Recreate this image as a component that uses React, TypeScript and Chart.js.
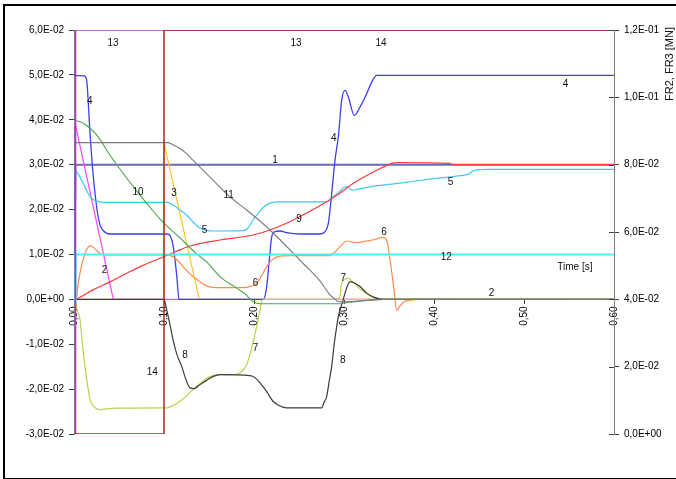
import React, { useEffect, useRef } from 'react';
import { Chart, registerables } from 'chart.js';

Chart.register(...registerables);

const W = 676;
const H = 479;
const FONT = "'Liberation Sans', Arial, sans-serif";

// Axis tick values
const timeTicks = [0, 0.1, 0.2, 0.3, 0.4, 0.5, 0.6];
const leftTicks = [-0.03, -0.02, -0.01, 0, 0.01, 0.02, 0.03, 0.04, 0.05, 0.06];
const rightTicks = [0, 0.02, 0.04, 0.06, 0.08, 0.1, 0.12];

// Series 1
const t1 = [0, 0.0017, 0.6];
const v1 = [0, 0.03, 0.03];
// Series 2
const t2 = [0, 0.0017, 0.0437, 0.6];
const v2 = [0.0399, 0.0388, 0, 0];
// Series 3
const t3 = [0, 0.1, 0.1, 0.1392, 0.6];
const v3 = [0, 0, 0.0348, 0, 0];
// Series 4
const t4 = [0, 0.0111, 0.0139, 0.0178, 0.0208, 0.0256, 0.0289, 0.0322, 0.04, 0.1044, 0.11, 0.1141, 0.1167, 0.2103, 0.2141, 0.217, 0.2197, 0.2233, 0.2289, 0.2363, 0.2511, 0.2733, 0.2789, 0.2826, 0.2856, 0.29, 0.2939, 0.2974, 0.3011, 0.3048, 0.3114, 0.3178, 0.3252, 0.3308, 0.3363, 0.6];
const v4 = [0.0499, 0.0498, 0.049, 0.037, 0.0288, 0.0199, 0.0166, 0.0154, 0.01456, 0.01456, 0.0121, 0.0054, 0, 0, 0.00284, 0.00878, 0.01396, 0.01507, 0.01522, 0.01484, 0.01456, 0.01456, 0.01507, 0.01693, 0.02211, 0.031, 0.03656, 0.04433, 0.04656, 0.04507, 0.041, 0.04284, 0.04582, 0.0484, 0.04989, 0.04989];
// Series 5
const t5 = [0, 0.0033, 0.0067, 0.0122, 0.0178, 0.0233, 0.0289, 0.0363, 0.103, 0.1103, 0.1178, 0.1252, 0.1322, 0.14, 0.1478, 0.1544, 0.1878, 0.1933, 0.1989, 0.2067, 0.2122, 0.2178, 0.2289, 0.2808, 0.2878, 0.2956, 0.3011, 0.3044, 0.3089, 0.3156, 0.3289, 0.3622, 0.3956, 0.4289, 0.44, 0.4433, 0.4622, 0.6];
const v5 = [0.029, 0.02833, 0.02722, 0.025, 0.02284, 0.022, 0.02173, 0.0216, 0.0216, 0.021, 0.01989, 0.01878, 0.01722, 0.01589, 0.01533, 0.01522, 0.01529, 0.01589, 0.01767, 0.01967, 0.02078, 0.02144, 0.02173, 0.02173, 0.02284, 0.02411, 0.02507, 0.025, 0.02433, 0.02456, 0.02507, 0.02589, 0.02678, 0.02756, 0.02804, 0.02862, 0.02893, 0.02893];
// Series 6
const t6 = [0, 0.003, 0.0044, 0.0067, 0.01, 0.0133, 0.0178, 0.0211, 0.0256, 0.0289, 0.0344, 0.1022, 0.11, 0.1178, 0.1244, 0.1322, 0.14, 0.1474, 0.1544, 0.1622, 0.1878, 0.1956, 0.203, 0.2089, 0.2141, 0.22, 0.2267, 0.24, 0.2844, 0.29, 0.2956, 0.303, 0.3089, 0.3141, 0.3252, 0.3344, 0.3433, 0.3474, 0.3511, 0.3556, 0.3585, 0.3622, 0.3667, 0.3733, 0.3844, 0.6];
const v6 = [0, 0.0006, 0.00322, 0.00589, 0.00878, 0.01078, 0.01189, 0.01167, 0.01078, 0.01022, 0.00989, 0.00989, 0.00951, 0.00811, 0.00656, 0.00507, 0.00389, 0.003, 0.00267, 0.00262, 0.00262, 0.00289, 0.0036, 0.00544, 0.00729, 0.00878, 0.00951, 0.00973, 0.00973, 0.01056, 0.01173, 0.013, 0.01278, 0.01262, 0.013, 0.01333, 0.01382, 0.01322, 0.00878, 0.00211, -0.00249, -0.00144, -0.00056, -0.0002, 0, 0];
// Series 7
const t7 = [0, 0.001, 0.0033, 0.0067, 0.0094, 0.0122, 0.015, 0.0178, 0.0211, 0.0252, 0.03, 0.0363, 0.0456, 0.103, 0.11, 0.1178, 0.1252, 0.1322, 0.14, 0.1474, 0.1544, 0.1622, 0.1767, 0.1844, 0.1919, 0.1989, 0.2033, 0.2067, 0.2086, 0.2111, 0.2933, 0.2956, 0.2974, 0.3, 0.3044, 0.3089, 0.3133, 0.3178, 0.3244, 0.3322, 0.34, 0.6];
const v7 = [0, 0, -0.0023, -0.00456, -0.0101, -0.01493, -0.019, -0.02233, -0.02367, -0.0244, -0.02456, -0.0244, -0.02422, -0.02418, -0.02367, -0.02271, -0.02144, -0.02011, -0.01878, -0.01751, -0.017, -0.01678, -0.01678, -0.0164, -0.01456, -0.00967, -0.00567, -0.00233, -0.0003, 0, 0, 0.00078, 0.0036, 0.00433, 0.00471, 0.00411, 0.00322, 0.00233, 0.00133, 0.00056, 0.00004, 0];
// Series 8
const t8 = [0, 0.1, 0.103, 0.1067, 0.11, 0.1144, 0.1197, 0.1244, 0.1289, 0.1333, 0.14, 0.1474, 0.1548, 0.1622, 0.1956, 0.2011, 0.2067, 0.2141, 0.2211, 0.2289, 0.2363, 0.2752, 0.2778, 0.2808, 0.2833, 0.2863, 0.2889, 0.2919, 0.2937, 0.2992, 0.3022, 0.3067, 0.3122, 0.3178, 0.3252, 0.3326, 0.3437, 0.6];
const v8 = [0, 0, -0.00233, -0.00567, -0.009, -0.01233, -0.01493, -0.01789, -0.01973, -0.01989, -0.019, -0.018, -0.01716, -0.01678, -0.017, -0.01744, -0.01862, -0.02056, -0.02271, -0.02378, -0.02418, -0.02418, -0.023, -0.0216, -0.01856, -0.01493, -0.01033, -0.00604, -0.00382, 0, 0.00211, 0.00396, 0.0036, 0.00284, 0.00138, 0.00049, 0, 0];
// Series 9
const t9 = [0, 0.003, 0.0211, 0.04, 0.0585, 0.0767, 0.0956, 0.1122, 0.1289, 0.1622, 0.1989, 0.2178, 0.2367, 0.2544, 0.2808, 0.2956, 0.31, 0.3322, 0.3544, 0.3589, 0.4178, 0.42, 0.6];
const v9 = [0, 0.0001, 0.00211, 0.00389, 0.00582, 0.00756, 0.00916, 0.01056, 0.01189, 0.01322, 0.01433, 0.01544, 0.017, 0.01878, 0.02173, 0.02367, 0.02582, 0.02833, 0.03033, 0.03044, 0.03027, 0.03, 0.03];
// Series 10
const t10 = [0, 0.0067, 0.0122, 0.0178, 0.0244, 0.0308, 0.0363, 0.0733, 0.0844, 0.0956, 0.1178, 0.1363, 0.1474, 0.1622, 0.1808, 0.19, 0.1989, 0.2067, 0.2956, 0.3011, 0.3178, 0.3433, 0.6];
const v10 = [0.0399, 0.03956, 0.039, 0.03811, 0.03678, 0.03507, 0.03322, 0.02322, 0.02056, 0.01789, 0.01367, 0.01011, 0.00833, 0.00507, 0.00249, 0.00122, -0.00049, -0.001, -0.001, -0.00078, -0.00044, 0, 0];
// Series 11
const t11 = [0, 0.1044, 0.1089, 0.1133, 0.1178, 0.1244, 0.1322, 0.1544, 0.1733, 0.1919, 0.2178, 0.2544, 0.2733, 0.2844, 0.29, 0.2933, 0.2978, 0.3178, 0.3433, 0.6];
const v11 = [0.0349, 0.0349, 0.03456, 0.03411, 0.0336, 0.03256, 0.031, 0.02656, 0.02284, 0.01989, 0.01544, 0.00804, 0.00411, 0.001, 0.00004, -0.00049, -0.00056, -0.00033, 0, 0];
// Series 12
const t12 = [0, 0.0017, 0.0017, 0.6];
const v12 = [0, 0, 0.01, 0.01];
// Series 13 (FR2, right axis)
const t13 = [0, 0.0017, 0.0017, 0.6];
const v13 = [0, 0, 0.12, 0.12];
// Series 14 (FR3, right axis)
const t14 = [0, 0.1, 0.1, 0.6];
const v14 = [0, 0, 0.12, 0.12];

// Curve number tags, anchored in data coordinates of the left axis
const tagTexts = ['13', '13', '14', '4', '4', '4', '1', '10', '3', '11', '5', '5', '9', '6', '6', '12', '2', '2', '7', '7', '8', '8', '14'];
const tagTimes = [0.0433, 0.2467, 0.3411, 0.0175, 0.2887, 0.5461, 0.2233, 0.0711, 0.1111, 0.1719, 0.1450, 0.4183, 0.2500, 0.3444, 0.2017, 0.4137, 0.0339, 0.4639, 0.2992, 0.2017, 0.1233, 0.2987, 0.0870];
const tagValues = [0.0571, 0.0571, 0.0571, 0.0441, 0.0359, 0.0479, 0.031, 0.0239, 0.0237, 0.0232, 0.0153, 0.026, 0.0178, 0.015, 0.0035, 0.0094, 0.0064, 0.0013, 0.0046, -0.011, -0.0125, -0.0135, -0.0163];

type Def = { name: string; t: number[]; v: number[]; color: string; width: number; axis: 'y' | 'y2'; smooth: boolean };

const defs: Def[] = [
  { name: '1', t: t1, v: v1, color: '#6B6BBF', width: 2, axis: 'y', smooth: false },
  { name: '2', t: t2, v: v2, color: '#FF44FF', width: 1.2, axis: 'y', smooth: false },
  { name: '3', t: t3, v: v3, color: '#F7C531', width: 1.2, axis: 'y', smooth: false },
  { name: '4', t: t4, v: v4, color: '#3D3DF5', width: 1.3, axis: 'y', smooth: true },
  { name: '5', t: t5, v: v5, color: '#3FC8F4', width: 1.2, axis: 'y', smooth: true },
  { name: '6', t: t6, v: v6, color: '#FF8A4C', width: 1.2, axis: 'y', smooth: true },
  { name: '7', t: t7, v: v7, color: '#B5D645', width: 1.2, axis: 'y', smooth: true },
  { name: '8', t: t8, v: v8, color: '#3C3C3C', width: 1.2, axis: 'y', smooth: true },
  { name: '9', t: t9, v: v9, color: '#FF3B3B', width: 1.2, axis: 'y', smooth: true },
  { name: '10', t: t10, v: v10, color: '#4CA64C', width: 1.1, axis: 'y', smooth: true },
  { name: '11', t: t11, v: v11, color: '#7A7A7A', width: 1.1, axis: 'y', smooth: true },
  { name: '12', t: t12, v: v12, color: '#4CF0F5', width: 2, axis: 'y', smooth: false },
  { name: '13', t: t13, v: v13, color: '#A23CC8', width: 1.5, axis: 'y2', smooth: false },
  { name: '14', t: t14, v: v14, color: '#A52A2A', width: 1.5, axis: 'y2', smooth: false },
];

function sciLabel(v: number): string {
  if (Math.abs(v) < 1e-12) return '0,0E+00';
  const [m, e] = v.toExponential(1).split('e');
  const ex = parseInt(e, 10);
  const sign = ex < 0 ? '-' : '+';
  return m.replace('.', ',') + 'E' + sign + String(Math.abs(ex)).padStart(2, '0');
}

const tickFont = { family: FONT, size: 10 };

const decorations = {
  id: 'decorations',
  beforeDraw(chart: any) {
    const ctx = chart.ctx;
    ctx.save();
    ctx.fillStyle = '#ffffff';
    ctx.fillRect(0, 0, W, H);
    ctx.strokeStyle = '#000000';
    ctx.lineWidth = 2;
    ctx.strokeRect(4, 5, W + 4, H - 5);
    ctx.restore();
  },
  afterDraw(chart: any) {
    const ctx = chart.ctx;
    const { x, y, y2 } = chart.scales;
    const area = chart.chartArea;
    ctx.save();
    // inner half of the right axis tick marks
    ctx.strokeStyle = '#404040';
    ctx.lineWidth = 1;
    for (const v of rightTicks) {
      const py = Math.round(y2.getPixelForValue(v)) + 0.5;
      ctx.beginPath();
      ctx.moveTo(area.right - 5, py);
      ctx.lineTo(area.right, py);
      ctx.stroke();
    }
    // curve number tags
    ctx.fillStyle = '#111111';
    ctx.font = `10px ${FONT}`;
    ctx.textAlign = 'center';
    ctx.textBaseline = 'middle';
    tagTexts.forEach((txt, i) => {
      ctx.fillText(txt, x.getPixelForValue(tagTimes[i]), y.getPixelForValue(tagValues[i]));
    });
    // time axis title
    ctx.fillText('Time [s]', x.getPixelForValue(0.5565), y.getPixelForValue(0.0071));
    // right axis title
    ctx.font = `11px ${FONT}`;
    ctx.translate(W - 6, area.top - 3);
    ctx.rotate(-Math.PI / 2);
    ctx.textAlign = 'right';
    ctx.fillText('FR2, FR3 [MN]', 0, 0);
    ctx.restore();
  },
};

export default function App() {
  const ref = useRef<HTMLCanvasElement>(null);

  useEffect(() => {
    document.body.style.margin = '0';
    const canvas = ref.current;
    if (!canvas) return;

    const datasets = defs
      .map((d, i) => ({
        label: d.name,
        data: d.t.map((t, k) => ({ x: t, y: d.v[k] })),
        borderColor: d.color,
        backgroundColor: d.color,
        borderWidth: d.width,
        pointRadius: 0,
        fill: false,
        tension: 0,
        cubicInterpolationMode: d.smooth ? 'monotone' : 'default',
        yAxisID: d.axis,
        order: -i,
      }));

    const chart = new Chart(canvas, {
      type: 'line',
      data: { datasets: datasets as any },
      options: {
        animation: false,
        responsive: false,
        devicePixelRatio: 1,
        events: [],
        layout: { padding: { left: 0, right: 0, top: 30, bottom: 45 } },
        plugins: { legend: { display: false }, tooltip: { enabled: false }, title: { display: false } },
        elements: { point: { radius: 0 } },
        scales: {
          x: {
            type: 'linear',
            min: 0,
            max: 0.6,
            position: { y: 0 } as any,
            afterBuildTicks: (s: any) => { s.ticks = timeTicks.map((value) => ({ value })); },
            grid: { display: true, drawOnChartArea: false, drawTicks: true, tickLength: 4, color: '#404040' },
            border: { display: true, color: '#808080', width: 1 },
            ticks: {
              autoSkip: false,
              minRotation: 90,
              maxRotation: 90,
              padding: 3,
              color: '#000000',
              font: tickFont,
              callback: (v: any) => Number(v).toFixed(2).replace('.', ','),
            },
          },
          y: {
            type: 'linear',
            position: 'left',
            min: -0.03,
            max: 0.06,
            afterBuildTicks: (s: any) => { s.ticks = leftTicks.map((value) => ({ value })); },
            afterFit: (s: any) => { s.width = 74; },
            grid: { display: true, drawOnChartArea: false, drawTicks: true, tickLength: 5, color: '#404040' },
            border: { display: true, color: '#808080', width: 1 },
            ticks: { padding: 5, color: '#000000', font: tickFont, callback: (v: any) => sciLabel(Number(v)) },
          },
          y2: {
            type: 'linear',
            position: 'right',
            min: 0,
            max: 0.12,
            afterBuildTicks: (s: any) => { s.ticks = rightTicks.map((value) => ({ value })); },
            afterFit: (s: any) => { s.width = 62; },
            grid: { display: true, drawOnChartArea: false, drawTicks: true, tickLength: 5, color: '#404040' },
            border: { display: true, color: '#808080', width: 1 },
            ticks: { padding: 5, color: '#000000', font: tickFont, callback: (v: any) => sciLabel(Number(v)) },
          },
        },
      } as any,
      plugins: [decorations],
    });

    return () => chart.destroy();
  }, []);

  return (
    <div style={{ position: 'absolute', left: 0, top: 0, width: W, height: H }}>
      <canvas ref={ref} width={W} height={H} style={{ display: 'block', width: W, height: H }} />
    </div>
  );
}
